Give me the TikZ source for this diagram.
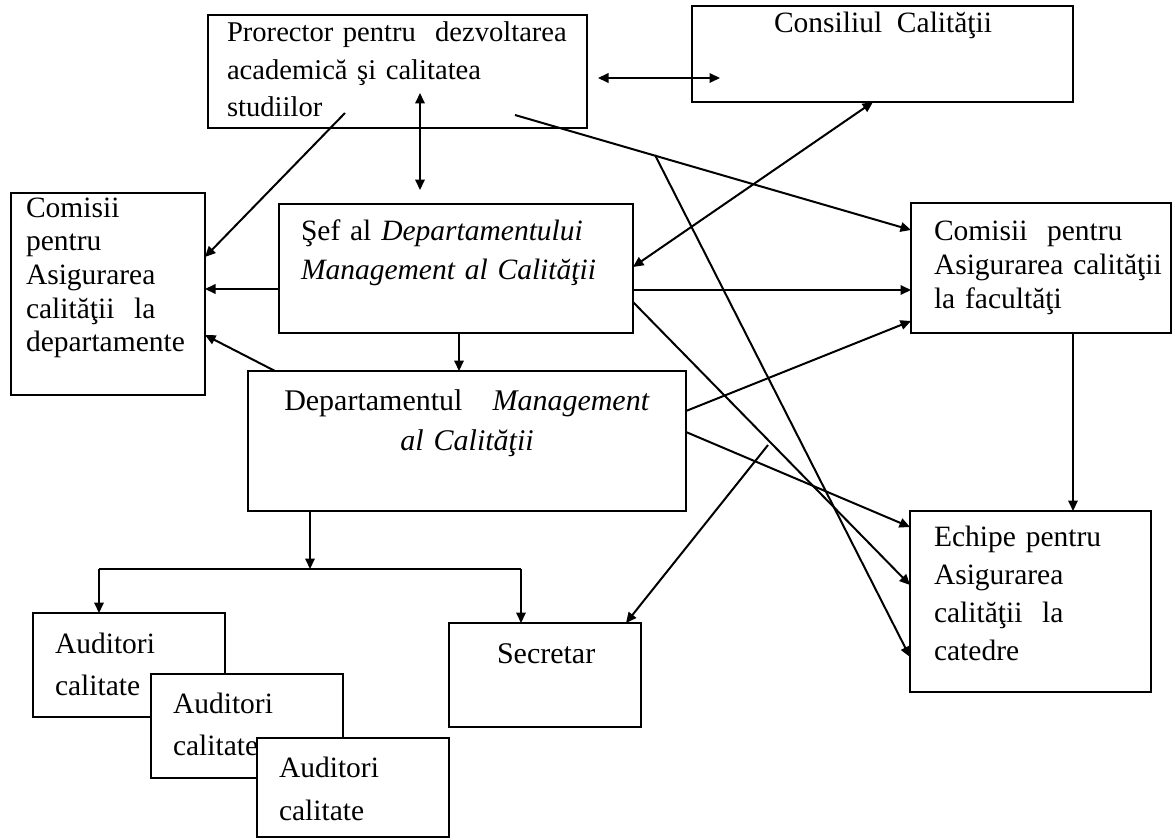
\documentclass[tikz,border=0pt]{standalone}
\usepackage{fontspec}
\setmainfont{Liberation Serif}
\usetikzlibrary{arrows.meta}
\tikzset{
  box/.style={draw, line width=2pt, inner sep=0pt, outer sep=0pt, fill=white},
  ln/.style={line width=2pt},
  arr/.style={line width=2pt, -{Triangle[length=10.5pt,width=9.5pt]}},
  dbl/.style={line width=2pt, {Triangle[length=10.5pt,width=9.5pt]}-{Triangle[length=10.5pt,width=9.5pt]}},
  txt/.style={inner sep=0pt, outer sep=0pt, align=left, anchor=base west},
}
\begin{document}
\begin{tikzpicture}[x=1pt,y=-1pt]
\useasboundingbox (0,0) rectangle (1175,840);
% boxes
\node[box, minimum width=379pt, minimum height=113pt] (pro) at (397.5,71.5) {};
\node[box, minimum width=381pt, minimum height=96pt] (cons) at (882.5,54) {};
\node[box, minimum width=194pt, minimum height=202pt] (cdep) at (108,294) {};
\node[box, minimum width=354pt, minimum height=129pt] (sef) at (456,268.5) {};
\node[box, minimum width=438pt, minimum height=140pt] (dept) at (467,441) {};
\node[box, minimum width=260pt, minimum height=130pt] (cfac) at (1041,268) {};
\node[box, minimum width=241pt, minimum height=181pt] (ech) at (1030.5,601.5) {};
\node[box, minimum width=192pt, minimum height=104pt] (sec) at (545,675) {};
% texts
\node[txt, text width=370pt, font=\fontsize{28.6}{37.5}\selectfont] (tpro) at (227,42)
  {Prorector pentru\ \ dezvoltarea\\academică şi calitatea\\studiilor};
\node[inner sep=0pt, anchor=base, font=\fontsize{29.5}{37.5}\selectfont] (tcons) at (883,33)
  {Consiliul\ \ Calităţii};
\node[txt, text width=185pt, font=\fontsize{29.5}{33.7}\selectfont] (tcdep) at (26,217)
  {Comisii\\pentru\\Asigurarea\\calităţii\ \ la\\departamente};
\node[txt, text width=340pt, font=\fontsize{29.5}{39}\selectfont] (tsef) at (301,240)
  {Şef al \textit{Departamentului}\\\textit{Management al Calităţii}};
\node[inner sep=0pt, outer sep=0pt, anchor=base, align=center, text width=430pt, font=\fontsize{30}{40}\selectfont] (tdept) at (467,410)
  {Departamentul\ \ \ \textit{Management}\\\textit{al Calităţii}};
\node[txt, text width=240pt, font=\fontsize{29.5}{34}\selectfont] (tcfac) at (934,240)
  {Comisii\ \ pentru\\Asigurarea calităţii\\la facultăţi};
\node[txt, text width=220pt, font=\fontsize{29.5}{38}\selectfont] (tech) at (934,546)
  {Echipe pentru\\Asigurarea\\calităţii\ \ la\\catedre};
\node[txt, font=\fontsize{30}{38}\selectfont] (tsec) at (497,663) {Secretar};
% stacked auditor boxes
\node[box, minimum width=192pt, minimum height=104pt] (a1) at (129,665) {};
\node[txt, text width=180pt, font=\fontsize{29.5}{42}\selectfont] (ta1) at (55,653) {Auditori\\calitate};
\node[box, minimum width=192pt, minimum height=104pt] (a2) at (247,726) {};
\node[txt, text width=180pt, font=\fontsize{29.5}{42}\selectfont] (ta2) at (173,713) {Auditori\\calitate};
\node[box, minimum width=192pt, minimum height=99pt] (a3) at (353,787.5) {};
\node[txt, text width=180pt, font=\fontsize{29.5}{43}\selectfont] (ta3) at (279,777) {Auditori\\calitate};
% free points
\coordinate (hA) at (598,78);
\coordinate (hB) at (720,78);
\coordinate (vA) at (420,93);
\coordinate (vB) at (420,190);
\coordinate (p1) at (345,113);
\coordinate (p2) at (515,115);
\coordinate (br) at (655,155);
\coordinate (s0) at (768,445);
\coordinate (jc) at (310,569);
\coordinate (jl) at (99,569);
\coordinate (jr) at (521,569);
% connectors
\draw[dbl] (hA) -- (hB);
\draw[dbl] (vA) -- (vB);
\draw[arr] (p1) -- ([yshift=37pt]cdep.east);
\draw[arr] (p2) -- ([yshift=38pt]cfac.west);
\draw[arr] (br) -- ([yshift=-55.5pt]ech.west);
\draw[arr] ([yshift=-20.5pt]sef.west) -- ([yshift=-20.5pt]sef.west -| cdep.east);
\draw[arr] ([xshift=3pt]sef.south) -- ([xshift=3pt]sef.south |- dept.north);
\draw[dbl] ([yshift=1.5pt]sef.east) -- ([xshift=-9.5pt]cons.south);
\draw[arr] ([yshift=-21.5pt]sef.east) -- ([yshift=-21.5pt]sef.east -| cfac.west);
\draw[arr] ([yshift=-33.5pt]sef.east) -- ([yshift=16.5pt]ech.west);
\draw[arr] ([xshift=-192pt]dept.north) -- ([yshift=-41pt]cdep.east);
\draw[arr] ([yshift=30pt]dept.east) -- ([yshift=-53pt]cfac.west);
\draw[arr] ([yshift=9pt]dept.east) -- ([yshift=74.5pt]ech.west);
\draw[arr] ([xshift=32pt]cfac.south) -- ([xshift=32pt]cfac.south |- ech.north);
\draw[arr] (s0) -- ([xshift=81pt]sec.north);
\draw[arr] ([xshift=-157pt]dept.south) -- (jc);
\draw[ln] (jl) -- (jr);
\draw[arr] (jl) -- (jl |- a1.north);
\draw[arr] (jr) -- (jr |- sec.north);
\end{tikzpicture}
\end{document}
